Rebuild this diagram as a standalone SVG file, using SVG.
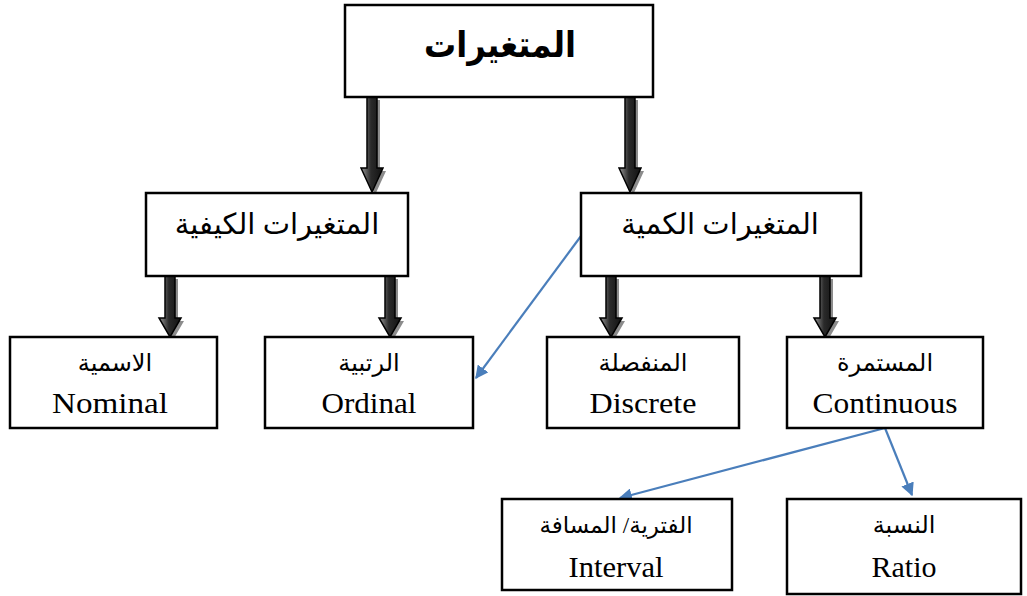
<svg xmlns="http://www.w3.org/2000/svg" width="1027" height="596" viewBox="0 0 1027 596">
<style>
.box{fill:#fff;stroke:#000;stroke-width:2.5}
.ar{font-family:"Liberation Serif","DejaVu Serif","DejaVu Sans",serif;text-anchor:middle;fill:#000}
.en{font-family:"Liberation Serif",serif;text-anchor:middle;fill:#000;font-size:29px}
.blue{stroke:#4a7ebb;stroke-width:2.2;fill:none}
.blk{fill:url(#g);stroke:#000;stroke-width:1.5}
.shd{fill:#8c8c8c}
</style>
<defs>
<linearGradient id="g" x1="0" y1="0" x2="1" y2="0">
<stop offset="0" stop-color="#9a9a9a"/>
<stop offset="0.45" stop-color="#2a2a2a"/>
<stop offset="1" stop-color="#111"/>
</linearGradient>
<path id="aTop" d="M-5 0 L5 0 L5 71 L11 71 L0 95 L-11 71 L-5 71 Z"/>
<path id="aMid" d="M-5 0 L5 0 L5 42 L11 42 L0 61 L-11 42 L-5 42 Z"/>
<marker id="m" viewBox="0 0 10 10" refX="9" refY="5" markerWidth="6" markerHeight="6" orient="auto" markerUnits="strokeWidth">
<path d="M0 0 L10 5 L0 10 Z" fill="#4a7ebb"/>
</marker>
</defs>
<g id="connectors">
<use href="#aTop" class="shd" x="375" y="100"/>
<use href="#aTop" class="blk" x="372" y="97"/>
<use href="#aTop" class="shd" x="633" y="100"/>
<use href="#aTop" class="blk" x="630" y="97"/>
<use href="#aMid" class="shd" x="173" y="279"/>
<use href="#aMid" class="blk" x="170" y="276"/>
<use href="#aMid" class="shd" x="393" y="279"/>
<use href="#aMid" class="blk" x="390" y="276"/>
<use href="#aMid" class="shd" x="614" y="279"/>
<use href="#aMid" class="blk" x="611" y="276"/>
<use href="#aMid" class="shd" x="828" y="279"/>
<use href="#aMid" class="blk" x="825" y="276"/>
<line class="blue" x1="581" y1="236" x2="476" y2="378" marker-end="url(#m)"/>
<line class="blue" x1="885" y1="428" x2="620" y2="498" marker-end="url(#m)"/>
<line class="blue" x1="885" y1="428" x2="912" y2="495" marker-end="url(#m)"/>
</g>
<g id="n-root">
<rect class="box" x="345" y="5" width="308" height="92"/>
<text class="ar" x="500" y="57" font-size="36" font-weight="bold" direction="rtl" textLength="152" lengthAdjust="spacingAndGlyphs">المتغيرات</text>
</g>
<g id="n-qual">
<rect class="box" x="146" y="193" width="262" height="83"/>
<text class="ar" x="277" y="234" font-size="29" direction="rtl">المتغيرات الكيفية</text>
</g>
<g id="n-quant">
<rect class="box" x="581" y="193" width="280" height="83"/>
<text class="ar" x="720" y="234" font-size="29" direction="rtl">المتغيرات الكمية</text>
</g>
<g id="n-nominal">
<rect class="box" x="10" y="337" width="207" height="91"/>
<text class="ar" x="115" y="371" font-size="24" direction="rtl">الاسمية</text>
<text class="en" x="110" y="413" textLength="116" lengthAdjust="spacingAndGlyphs">Nominal</text>
</g>
<g id="n-ordinal">
<rect class="box" x="265" y="337" width="208" height="91"/>
<text class="ar" x="369" y="371" font-size="24" direction="rtl">الرتبية</text>
<text class="en" x="369" y="413" textLength="95" lengthAdjust="spacingAndGlyphs">Ordinal</text>
</g>
<g id="n-discrete">
<rect class="box" x="547" y="337" width="192" height="91"/>
<text class="ar" x="643" y="371" font-size="24" direction="rtl">المنفصلة</text>
<text class="en" x="643" y="413" textLength="107" lengthAdjust="spacingAndGlyphs">Discrete</text>
</g>
<g id="n-continuous">
<rect class="box" x="787" y="337" width="196" height="91"/>
<text class="ar" x="885" y="371" font-size="24" direction="rtl">المستمرة</text>
<text class="en" x="885" y="413" textLength="145" lengthAdjust="spacingAndGlyphs">Continuous</text>
</g>
<g id="n-interval">
<rect class="box" x="502" y="499" width="230" height="91"/>
<text class="ar" x="616" y="533" font-size="23" direction="rtl">الفترية/ المسافة</text>
<text class="en" x="616" y="577" textLength="95" lengthAdjust="spacingAndGlyphs">Interval</text>
</g>
<g id="n-ratio">
<rect class="box" x="787" y="499" width="234" height="95"/>
<text class="ar" x="904" y="533" font-size="24" direction="rtl">النسبة</text>
<text class="en" x="904" y="577" textLength="65" lengthAdjust="spacingAndGlyphs">Ratio</text>
</g>
</svg>
